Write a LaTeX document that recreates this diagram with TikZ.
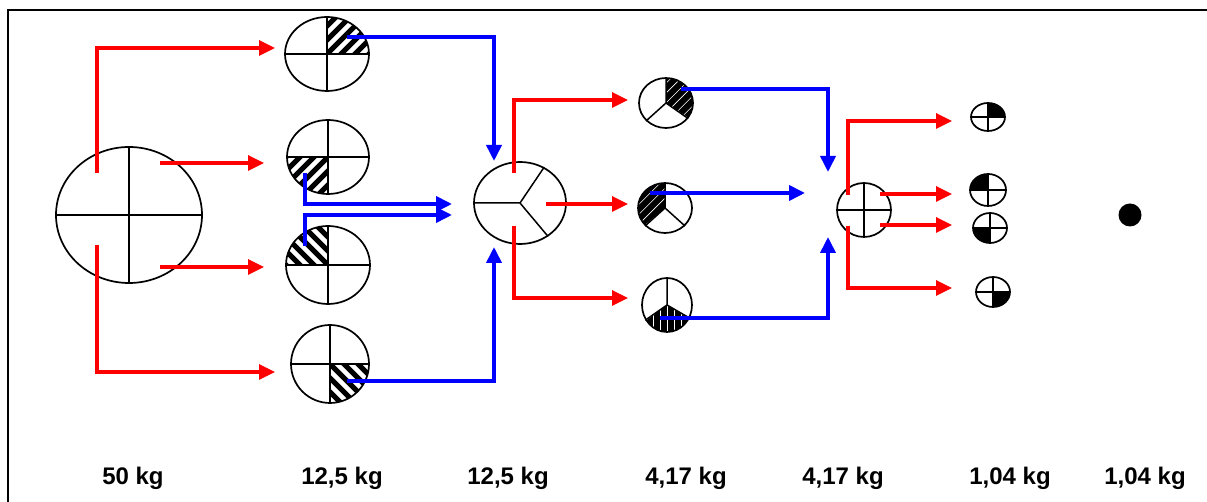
\documentclass[tikz,border=0pt]{standalone}
\usepackage{fontspec}
\setmainfont{Liberation Sans}
\usetikzlibrary{arrows.meta,shapes.geometric}
% quadrant with thick black stripes: cx cy rx ry startangle direction(1 = /, -1 = \)
\newcommand{\qhatch}[6]{%
  \begin{scope}
    \clip (#1,#2) -- ++(#5:#3 and #4) arc[start angle=#5, delta angle=90, x radius=#3, y radius=#4] -- cycle;
    \foreach \k in {-98,-84,...,98}
      \draw[line width=5.2pt] ({#1+\k-60},{#2-(#6)*60}) -- ({#1+\k+60},{#2+(#6)*60});
  \end{scope}}
% sector filled black with thin white lines: cx cy rx ry start end lineangle
\newcommand{\shatch}[7]{%
  \begin{scope}
    \clip (#1,#2) -- ++(#5:#3 and #4) arc[start angle=#5, end angle=#6, x radius=#3, y radius=#4] -- cycle;
    \fill ({#1-40},{#2-40}) rectangle ({#1+40},{#2+40});
    \foreach \k in {-35,-28,...,35}
      \draw[white, line width=0.6pt, rotate around={#7:(#1,#2)}] ({#1+\k},{#2-40}) -- ({#1+\k},{#2+40});
  \end{scope}}
% solid black quadrant: cx cy rx ry start
\newcommand{\qsolid}[5]{%
  \fill (#1,#2) -- ++(#5:#3 and #4) arc[start angle=#5, delta angle=90, x radius=#3, y radius=#4] -- cycle;}
\tikzset{
  ell/.style={ellipse, draw, line width=1.7pt, inner sep=0pt},
  divline/.style={line width=1.5pt},
  redflow/.style={draw={rgb,255:red,255;green,0;blue,0}, line width=3.3pt,
    -{Triangle[length=16pt,width=15pt]}, color={rgb,255:red,255;green,0;blue,0}},
  blueflow/.style={draw={rgb,255:red,0;green,0;blue,255}, line width=3.7pt,
    -{Triangle[length=16pt,width=15pt]}, color={rgb,255:red,0;green,0;blue,255}},
  lbl/.style={font=\fontsize{24}{28}\selectfont\bfseries, inner sep=0pt}
}
\begin{document}
\begin{tikzpicture}[x=1pt,y=1pt]
\useasboundingbox (0,0) rectangle (1207,502);
% frame
\draw[line width=2pt] (8,0) -- (8,492) -- (1207,492);

% ---------- 50 kg ----------
\node[ell, minimum width=146pt, minimum height=136pt] (B) at (129,287) {};
\draw[divline] (B.north) -- (B.south) (B.west) -- (B.east);

% ---------- 12,5 kg quarters ----------
\qhatch{327}{448}{42}{37}{0}{1}
\node[ell, minimum width=84pt, minimum height=74pt] (C1) at (327,448) {};
\draw[divline] (C1.north) -- (C1.south) (C1.west) -- (C1.east);

\qhatch{328}{345}{41}{37}{180}{1}
\node[ell, minimum width=82pt, minimum height=74pt] (C2) at (328,345) {};
\draw[divline] (C2.north) -- (C2.south) (C2.west) -- (C2.east);

\qhatch{328}{237}{42}{39}{90}{-1}
\node[ell, minimum width=84pt, minimum height=78pt] (C3) at (328,237) {};
\draw[divline] (C3.north) -- (C3.south) (C3.west) -- (C3.east);

\qhatch{330}{138}{39}{39}{270}{-1}
\node[ell, minimum width=78pt, minimum height=78pt] (C4) at (330,138) {};
\draw[divline] (C4.north) -- (C4.south) (C4.west) -- (C4.east);

% ---------- 12,5 kg thirds ----------
\node[ell, minimum width=92pt, minimum height=82pt] (M) at (520,299) {};
\draw[divline] (M.center) -- (M.west) (M.center) -- (M.56) (M.center) -- (M.-50);

% ---------- 4,17 kg thirds ----------
\shatch{666}{399}{27}{25}{-35}{90}{-45}
\node[ell, minimum width=54pt, minimum height=50pt] (S1) at (666,399) {};
\draw[divline] (S1.center) -- (S1.90) (S1.center) -- (S1.222) (S1.center) -- (S1.-35);

\shatch{665}{294}{27}{25}{90}{222}{-45}
\node[ell, minimum width=54pt, minimum height=50pt] (S2) at (665,294) {};
\draw[divline] (S2.center) -- (S2.90) (S2.center) -- (S2.222) (S2.center) -- (S2.-42);

\shatch{667}{197}{25}{27}{215}{330}{0}
\node[ell, minimum width=50pt, minimum height=54pt] (S3) at (667,197) {};
\draw[divline] (S3.center) -- (S3.90) (S3.center) -- (S3.215) (S3.center) -- (S3.-30);

% ---------- 4,17 kg quarters ----------
\node[ell, minimum width=54pt, minimum height=54pt] (Q) at (864,292) {};
\draw[divline] (Q.north) -- (Q.south) (Q.west) -- (Q.east);

% ---------- 1,04 kg ----------
\qsolid{988}{385}{17}{14}{0}
\node[ell, minimum width=34pt, minimum height=28pt] (T1) at (988,385) {};
\draw[divline] (T1.north) -- (T1.south) (T1.west) -- (T1.east);

\qsolid{988}{312}{18}{16}{90}
\node[ell, minimum width=36pt, minimum height=32pt] (T2) at (988,312) {};
\draw[divline] (T2.north) -- (T2.south) (T2.west) -- (T2.east);

\qsolid{990}{274}{17}{15}{180}
\node[ell, minimum width=34pt, minimum height=30pt] (T3) at (990,274) {};
\draw[divline] (T3.north) -- (T3.south) (T3.west) -- (T3.east);

\qsolid{993}{210}{17}{15}{270}
\node[ell, minimum width=34pt, minimum height=30pt] (T4) at (993,210) {};
\draw[divline] (T4.north) -- (T4.south) (T4.west) -- (T4.east);

\node[circle, fill=black, minimum size=23pt, inner sep=0pt] (D) at (1130,287) {};

% ---------- connector points ----------
\coordinate (b1) at (97,329);  \coordinate (c1in) at (275,454);
\coordinate (b2) at (160,339); \coordinate (c2in) at (264,339);
\coordinate (b3) at (160,235); \coordinate (c3in) at (264,235);
\coordinate (b4) at (97,257);  \coordinate (c4in) at (275,130);

\coordinate (c1out) at (347,465); \coordinate (min1) at (494,341);
\coordinate (c2out) at (305,329); \coordinate (min2) at (452,298);
\coordinate (c3out) at (305,256); \coordinate (min3) at (452,287);
\coordinate (c4out) at (347,121); \coordinate (min4) at (494,255);

\coordinate (m1) at (514,329); \coordinate (s1in) at (628,402);
\coordinate (m2) at (546,298); \coordinate (s2in) at (628,298);
\coordinate (m3) at (514,276); \coordinate (s3in) at (628,204);

\coordinate (s1out) at (681,413); \coordinate (q1in) at (828,330);
\coordinate (s2out) at (650,309); \coordinate (q2in) at (805,309);
\coordinate (s3out) at (660,184); \coordinate (q3in) at (828,265);

\coordinate (q1) at (848,307); \coordinate (t1in) at (952,381);
\coordinate (q2) at (880,308); \coordinate (t2in) at (952,308);
\coordinate (q3) at (880,277); \coordinate (t3in) at (952,277);
\coordinate (q4) at (848,276); \coordinate (t4in) at (952,214);

% ---------- red flows ----------
\draw[redflow] (b1) |- (c1in);
\draw[redflow] (b2) -- (c2in);
\draw[redflow] (b3) -- (c3in);
\draw[redflow] (b4) |- (c4in);
\draw[redflow] (m1) |- (s1in);
\draw[redflow] (m2) -- (s2in);
\draw[redflow] (m3) |- (s3in);
\draw[redflow] (q1) |- (t1in);
\draw[redflow] (q2) -- (t2in);
\draw[redflow] (q3) -- (t3in);
\draw[redflow] (q4) |- (t4in);

% ---------- blue flows ----------
\draw[blueflow] (c1out) -| (min1);
\draw[blueflow] (c2out) |- (min2);
\draw[blueflow] (c3out) |- (min3);
\draw[blueflow] (c4out) -| (min4);
\draw[blueflow] (s1out) -| (q1in);
\draw[blueflow] (s2out) -- (q2in);
\draw[blueflow] (s3out) -| (q3in);

% ---------- labels ----------
\node[lbl] (l1) at (133,24) {50 kg};
\node[lbl] (l2) at (342,24) {12,5 kg};
\node[lbl] (l3) at (508,24) {12,5 kg};
\node[lbl] (l4) at (686,24) {4,17 kg};
\node[lbl] (l5) at (843,24) {4,17 kg};
\node[lbl] (l6) at (1010,24) {1,04 kg};
\node[lbl] (l7) at (1145,24) {1,04 kg};
\end{tikzpicture}
\end{document}
